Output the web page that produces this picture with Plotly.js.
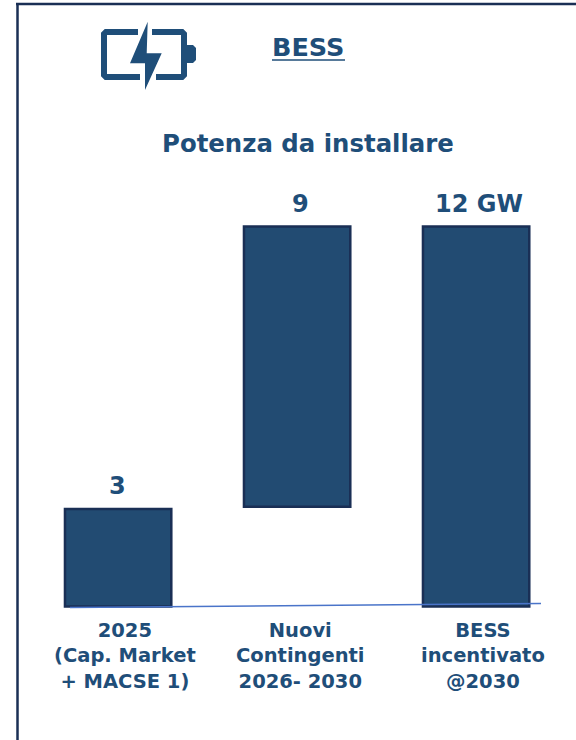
<!DOCTYPE html>
<html>
<head>
<meta charset="utf-8">
<script src="https://cdn.plot.ly/plotly-3.0.1.min.js"></script>
<style>html,body{margin:0;padding:0;background:#fff;overflow:hidden}#c{width:576px;height:740px}</style>
</head>
<body>
<div id="c"></div>
<script>
var categories = ['2025<br>(Cap. Market<br>+ MACSE 1)', 'Nuovi<br>Contingenti<br>2026- 2030', 'BESS<br>incentivato<br>@2030'];
var barHeights = [3.08, 8.85, 12];
var barBases = [0, 3.15, 0];
var valueLabels = ['3', '9', '12 GW'];
var titleText = 'Potenza da installare';
var headerText = 'BESS';

var W = 576, H = 740;
var BLUE = '#1f4e79', FILL = '#224b72', EDGE = '#1a2f55', FONT = '"DejaVu Sans", sans-serif';
var labelShift = [7, 3, 7], valueShift = [-1, 3, 3];
function px(x){return x / W;}
function py(y){return 1 - y / H;}
function poly(pts, close){
  return pts.map(function(p, i){return (i ? 'L' : 'M') + px(p[0]) + ',' + py(p[1]);}).join(' ') + (close ? ' Z' : '');
}
function line(x0, y0, x1, y1, color, width){
  return {type:'line', xref:'paper', yref:'paper', x0:px(x0), y0:py(y0), x1:px(x1), y1:py(y1), line:{color:color, width:width}};
}
function pathShape(d, fill, lineColor, width){
  return {type:'path', xref:'paper', yref:'paper', path:d, fillcolor:fill, line:{color:lineColor, width:width}};
}

var annotations = [];
categories.forEach(function(c, i){
  annotations.push({x:i, y:-0.3, xref:'x', yref:'y', yanchor:'top', xanchor:'center', xshift:labelShift[i], yshift:-1,
    text:'<b>' + c + '</b>', showarrow:false, align:'center', font:{family:FONT, size:19.5, color:BLUE}});
  annotations.push({x:i, y:barBases[i] + barHeights[i], xref:'x', yref:'y', yanchor:'bottom', xanchor:'center', xshift:valueShift[i], yshift:6.5,
    text:'<b>' + valueLabels[i] + '</b>', showarrow:false, font:{family:FONT, size:24, color:BLUE}});
});
annotations.push({xref:'paper', yref:'paper', x:px(308), y:py(47), yanchor:'middle', text:'<b>' + headerText + '</b>', showarrow:false,
  font:{family:FONT, size:25.5, color:BLUE}});
annotations.push({xref:'paper', yref:'paper', x:px(308), y:py(143), yanchor:'middle', text:'<b>' + titleText + '</b>', showarrow:false,
  font:{family:FONT, size:24.4, color:BLUE}});

var shapes = [
  line(17.5, 3, 17.5, 740, EDGE, 2.5),
  line(16, 4, 576, 4, EDGE, 2.5),
  line(272, 60, 345, 60, BLUE, 1.5),
  pathShape(poly([[138,32],[106,32],[104,34],[104,75],[106,77],[140,77]]), 'rgba(0,0,0,0)', BLUE, 6),
  pathShape(poly([[152,32],[182,32],[184,34],[184,75],[182,77],[156,77]]), 'rgba(0,0,0,0)', BLUE, 6),
  pathShape(poly([[187,45],[193,45],[196,48],[196,60],[193,63],[187,63]], true), BLUE, BLUE, 0),
  pathShape(poly([[147.7,21.7],[130,63.3],[145,63.3],[145,90],[161.7,53.3],[146.7,53.3]], true), BLUE, BLUE, 0),
  line(70, 607.5, 541, 603.5, '#4a74c9', 1.5)
];

var trace = {
  type:'bar',
  x:[0, 1, 2],
  y:barHeights,
  base:barBases,
  width:0.594,
  marker:{color:FILL, line:{color:EDGE, width:2.5}},
  hoverinfo:'skip'
};

var layout = {
  width:W, height:H,
  margin:{l:0, r:0, t:0, b:0},
  paper_bgcolor:'#fff', plot_bgcolor:'#fff',
  showlegend:false,
  xaxis:{range:[-0.66, 2.558], visible:false, fixedrange:true},
  yaxis:{range:[-4.215, 19.15], visible:false, fixedrange:true},
  annotations:annotations,
  shapes:shapes
};
Plotly.newPlot('c', [trace], layout, {displayModeBar:false, staticPlot:true});
</script>
</body>
</html>
